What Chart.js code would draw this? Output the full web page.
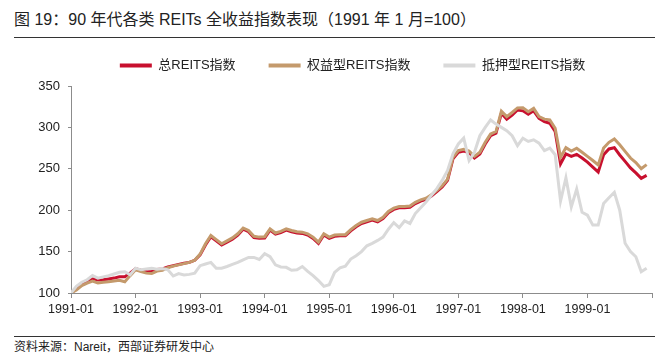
<!DOCTYPE html>
<html>
<head>
<meta charset="utf-8">
<script src="https://cdn.jsdelivr.net/npm/chart.js@4.4.0/dist/chart.umd.min.js"></script>
<style>
  body { margin: 0; width: 669px; height: 359px; position: relative; background: #fff; overflow: hidden;
         font-family: "Liberation Sans", Arial, "Noto Sans CJK SC", sans-serif; color: #222; }
  #title { position: absolute; left: 14px; top: 10px; font-size: 16px; line-height: 20px; white-space: nowrap; }
  .rule { position: absolute; left: 14px; width: 641px; border-top: 1.5px solid #333; }
  #source { position: absolute; left: 14px; top: 340px; font-size: 12px; line-height: 14px; white-space: nowrap; }
  #wrap { position: absolute; left: 0; top: 26px; width: 669px; height: 295px; }
</style>
</head>
<body>
<div id="title">图 19：90 年代各类 REITs 全收益指数表现（1991 年 1 月=100）</div>
<div class="rule" style="top:37px"></div>
<div id="wrap"><canvas id="chart"></canvas></div>
<div class="rule" style="top:336px"></div>
<div id="source">资料来源：Nareit，西部证券研发中心</div>
<script>
// monthly, 1991-01 .. 1999-12
const months = [];
for (let y = 1991; y <= 1999; y++) {
    for (let m = 1; m <= 12; m++) months.push(y + '-' + String(m).padStart(2, '0'));
}

const tickLabels = ['1991-01', '1992-01', '1993-01', '1994-01', '1995-01',
    '1996-01', '1997-01', '1998-01', '1999-01', ''];

const seriesNames = ['总REITS指数', '权益型REITS指数', '抵押型REITS指数'];

const totalIdx = [
    100, 105, 110, 113, 117.5, 115.7, 116, 117, 118, 119.7, 119.7, 124,
    129.5, 127.5, 126, 125.7, 128.5, 129, 131.5, 133, 134.5, 136, 137, 139.5,
    146, 158, 168, 163, 158, 161.5, 165, 170, 177, 174, 167, 166,
    166.5, 176, 171, 173, 176, 174, 172.5, 172, 170, 166, 160, 170,
    166, 168.5, 169, 169, 175, 180, 184, 186, 188, 186, 190, 197,
    201, 203, 203, 203.5, 208, 211, 213, 217, 222.5, 228, 236, 262,
    270, 271.5, 269.5, 263, 268, 280, 290, 293, 317, 310, 315, 321,
    320, 316, 320, 311, 307, 305, 295, 256, 268, 265, 267.5, 263,
    258, 252, 246, 267, 274, 275.5, 266.7, 259, 251, 245, 238.5, 242
];

const equityIdx = [
    100, 103.5, 109, 112, 114.5, 112, 113, 113.6, 114.5, 115.3, 113.6, 121,
    128, 126, 124, 123.5, 126.5, 127.5, 130.5, 132.5, 134, 135.5, 137, 139.5,
    147, 159.5, 169.5, 164.5, 159.5, 163, 166.5, 171.5, 178.5, 175.5, 168.5, 167.5,
    168, 177.5, 172.5, 174.5, 177.5, 175.5, 174, 173.5, 171.5, 167.5, 161.5, 171.5,
    167.5, 170, 170.5, 170.5, 176.5, 181.5, 185.5, 187.5, 189.5, 187.5, 191.5, 198.5,
    202.5, 204.5, 204.5, 205, 209.5, 212.5, 214.5, 218.5, 224, 229.5, 237.5, 264,
    272, 273.5, 271.5, 265, 270, 282, 292, 295, 319.5, 313, 318, 323.5,
    323.8, 319, 323, 313, 310, 309, 299, 264, 275.5, 271.5, 274.8, 270,
    265, 260, 254.6, 275, 282, 286, 279, 271, 263, 257.5, 250, 255
];

const mortgageIdx = [
    100, 108, 113, 116, 121, 118, 119.5, 121, 123, 125, 125.7, 122,
    130, 128, 129, 129.8, 128.6, 129.5, 128, 120.5, 123.5, 121.7, 122.5, 124,
    133, 135, 137, 130, 130, 132, 134.5, 137, 140, 143, 143, 140.5,
    147.5, 144, 134, 131.5, 131, 127.5, 128, 132, 126, 121, 115, 108,
    110, 125, 130.5, 132.5, 141, 145, 150, 157, 160, 163.5, 167.5, 177,
    185, 179, 187, 184, 196, 203, 210, 218, 226, 236, 248, 268,
    280, 287, 260, 270, 290, 300, 309, 304, 300, 296, 290, 278,
    287, 283, 285, 281, 272, 275, 267, 211, 239, 204, 225.6, 197.5,
    194, 182, 182, 208, 215, 221.6, 200, 160, 150, 143.8, 125.7, 129.8
];

const colors = ['#C8102E', '#C49A6C', '#D9D9D9'];
const axisGrey = '#8c8c8c';
const fontFamily = '"Liberation Sans", Arial, "Noto Sans CJK SC", sans-serif';

function toPoints(values) {
    return values.map((v, i) => ({ x: i, y: v }));
}

// fixed legend height, and legend centred a little right of the canvas middle
const legendTweak = {
    id: 'legendTweak',
    beforeInit(chart) {
        const fit = chart.legend.fit;
        chart.legend.fit = function() {
            fit.call(this);
            this.height = 60;
        };
    },
    afterLayout(chart) {
        chart.legend.left += 17;
    }
};

const ctx = document.getElementById('chart').getContext('2d');
new Chart(ctx, {
    type: 'line',
    data: {
        datasets: [totalIdx, equityIdx, mortgageIdx].map((vals, k) => ({
            label: seriesNames[k],
            data: toPoints(vals),
            borderColor: colors[k],
            backgroundColor: colors[k],
            borderWidth: 3,
            pointRadius: 0,
            tension: 0,
            order: 3 - k   // grey drawn on top, red at the bottom
        }))
    },
    options: {
        responsive: true,
        maintainAspectRatio: false,
        animation: false,
        layout: { padding: { left: 36, right: 17, top: 0, bottom: 0 } },
        plugins: {
            tooltip: { enabled: false },
            legend: {
                position: 'top',
                labels: {
                    boxWidth: 32,
                    boxHeight: 4,
                    padding: 33,
                    color: '#222',
                    font: { family: fontFamily, size: 13 },
                    generateLabels: function(chart) {
                        const items = Chart.defaults.plugins.legend.labels.generateLabels(chart);
                        items.forEach(it => { it.lineWidth = 0; });
                        return items.sort((a, b) => a.datasetIndex - b.datasetIndex);
                    }
                }
            }
        },
        scales: {
            x: {
                type: 'linear',
                min: 0,
                max: 108,
                afterFit: function(scale) { scale.height = 28; },
                border: { color: axisGrey, width: 1 },
                grid: { drawOnChartArea: false, color: axisGrey, tickLength: 5 },
                ticks: {
                    stepSize: 12,
                    autoSkip: false,
                    maxRotation: 0,
                    padding: 4,
                    color: '#222',
                    font: { family: fontFamily, size: 12.5 },
                    callback: function(value) { return tickLabels[value / 12]; }
                }
            },
            y: {
                min: 100,
                max: 350,
                afterFit: function(scale) { scale.width = 35; },
                border: { color: axisGrey, width: 1 },
                grid: { drawOnChartArea: false, color: axisGrey, tickLength: 3 },
                ticks: {
                    stepSize: 50,
                    padding: 8,
                    color: '#222',
                    font: { family: fontFamily, size: 13 }
                }
            }
        }
    },
    plugins: [legendTweak]
});
</script>
</body>
</html>
